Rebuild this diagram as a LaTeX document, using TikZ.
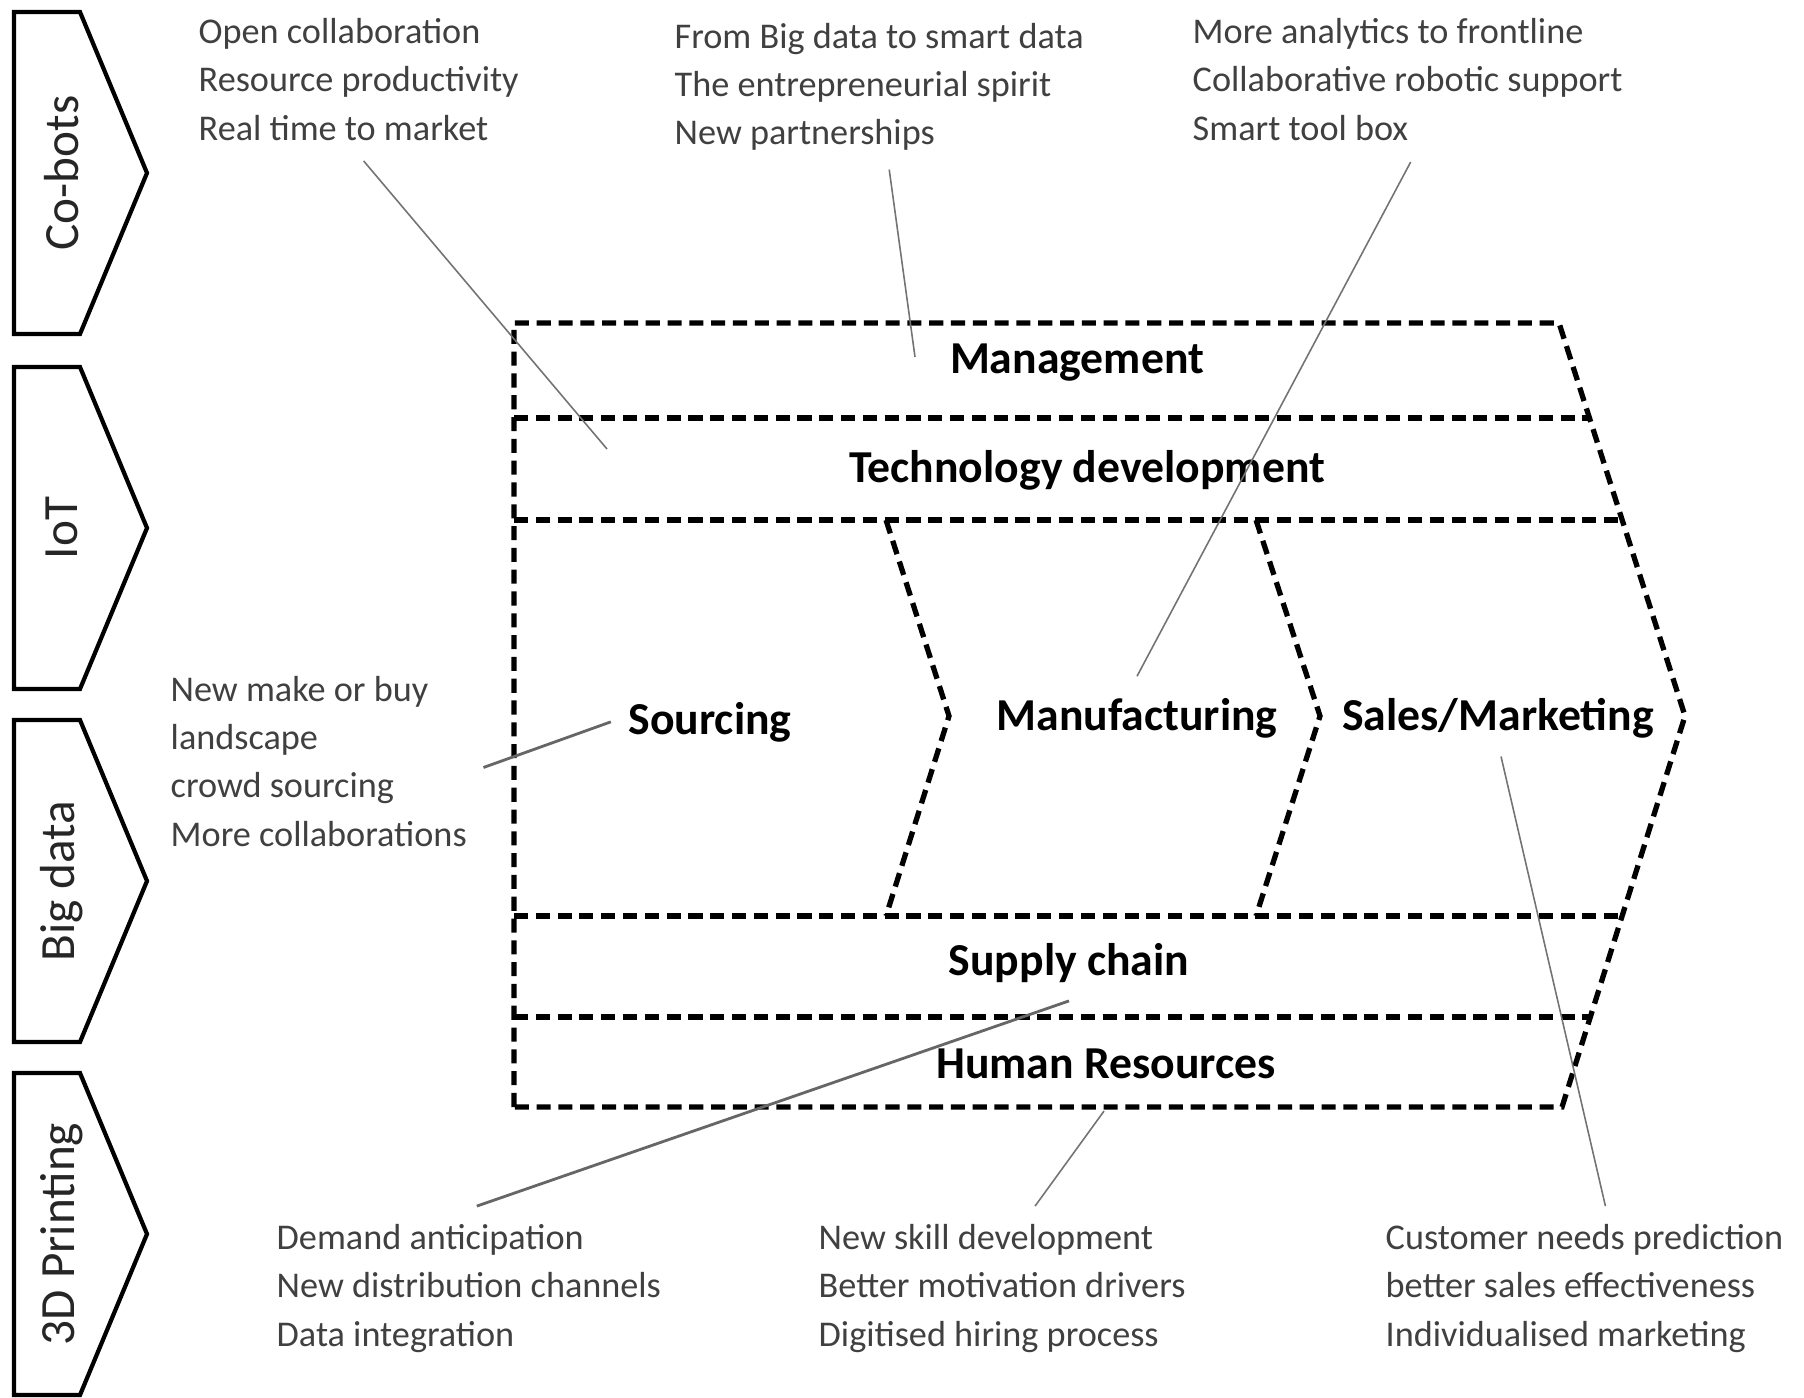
\documentclass[tikz,border=0pt]{standalone}
\usepackage{fontspec}
\setmainfont{Carlito}
\tikzset{
  note/.style={font={\fontsize{10.3pt}{13.66pt}\selectfont}, text=black!75, align=left, anchor=base west},
  part/.style={font={\fontsize{13pt}{15pt}\selectfont\bfseries}, anchor=base},
  sidelabel/.style={font={\fontsize{14pt}{16pt}\selectfont}, text=black!85},
  band/.style={line width=1.5pt, dash pattern=on 4pt off 2.2pt},
  side/.style={line width=1.2pt, line join=miter},
  conn/.style={draw=black!55, line width=0.45pt},
  connbold/.style={draw=black!60, line width=0.8pt}}

\begin{document}
\begin{tikzpicture}[x=0.01cm, y=-0.01cm]
\tikzstyle{every node}+=[inner sep=0pt]
\useasboundingbox (0,0) rectangle (1804,1397);

% technology tags on the left
\foreach \lbl/\top [count=\i] in {Co-bots/12, IoT/367, Big data/720, 3D Printing/1073}{
  \draw[side] (14,\top) -- (80,\top) -- (147,{\top+161}) -- (80,{\top+322}) -- (14,{\top+322}) -- cycle;
  \node[sidelabel, rotate=90] (side\i) at (62,{\top+161}) {\lbl};
}

% value chain frame
\coordinate (f-nw) at (514,323);
\coordinate (f-ne) at (1559,323);
\coordinate (f-tip) at (1685,716);
\coordinate (f-se) at (1562,1107);
\coordinate (f-sw) at (514,1107);
\draw[band] (f-sw) -- (f-nw) -- (f-ne) -- (f-tip) -- (f-se) -- cycle;
\draw[band] (514,418) -- (1590,418);
\draw[band] (514,520) -- (1622,520);
\draw[band] (514,916) -- (1622,916);
\draw[band] (514,1017) -- (1590,1017);
\draw[band] (886,520) -- (949,716) -- (886,916);
\draw[band] (1256,520) -- (1320,716) -- (1256,916);

\node[part] (mgmt) at (1077,373) {Management};
\node[part] (tech) at (1087,482) {Technology development};
\node[part] (src) at (710,734) {Sourcing};
\node[part] (manu) at (1137,730) {Manufacturing};
\node[part] (sales) at (1498,730) {Sales/Marketing};
\node[part] (supply) at (1069,975) {Supply chain};
\node[part] (hr) at (1106,1078) {Human Resources};

% notes (placed at the baseline of their last line)
\node[note] (n-tl) at (198,140) {Open collaboration\\Resource productivity\\Real time to market};
\node[note] (n-tm) at (674,145) {From Big data to smart data\\The entrepreneurial spirit\\New partnerships};
\node[note] (n-tr) at (1192,140) {More analytics to frontline\\Collaborative robotic support\\Smart tool box};
\node[note] (n-ml) at (170,846) {New make or buy\\landscape\\crowd sourcing\\More collaborations};
\node[note] (n-bl) at (276,1346) {Demand anticipation\\New distribution channels\\Data integration};
\node[note] (n-bm) at (818,1346) {New skill development\\Better motivation drivers\\Digitised hiring process};
\node[note] (n-br) at (1385,1346) {Customer needs prediction\\better sales effectiveness\\Individualised marketing};

\coordinate (mgmt-pt) at (915,357);
\coordinate (tech-pt) at (607,449);
\draw[conn] ([shift={(5,20)}]n-tl.south) -- (tech-pt);
\draw[conn] ([shift={(10,18)}]n-tm.south) -- (mgmt-pt);
\draw[conn] ([shift={(3,21)}]n-tr.south) -- ([shift={(0,-21)}]manu.north);
\draw[connbold] ([shift={(16,6)}]n-ml.east) -- ([shift={(-17,0)}]src.west);
\draw[connbold] ([shift={(0,18)}]supply.south) -- ([shift={(8,-18)}]n-bl.north);
\draw[conn] ([shift={(-2,32)}]hr.south) -- ([shift={(33,-18)}]n-bm.north);
\draw[conn] ([shift={(3,18)}]sales.south) -- ([shift={(21,-18)}]n-br.north);
\end{tikzpicture}
\end{document}
